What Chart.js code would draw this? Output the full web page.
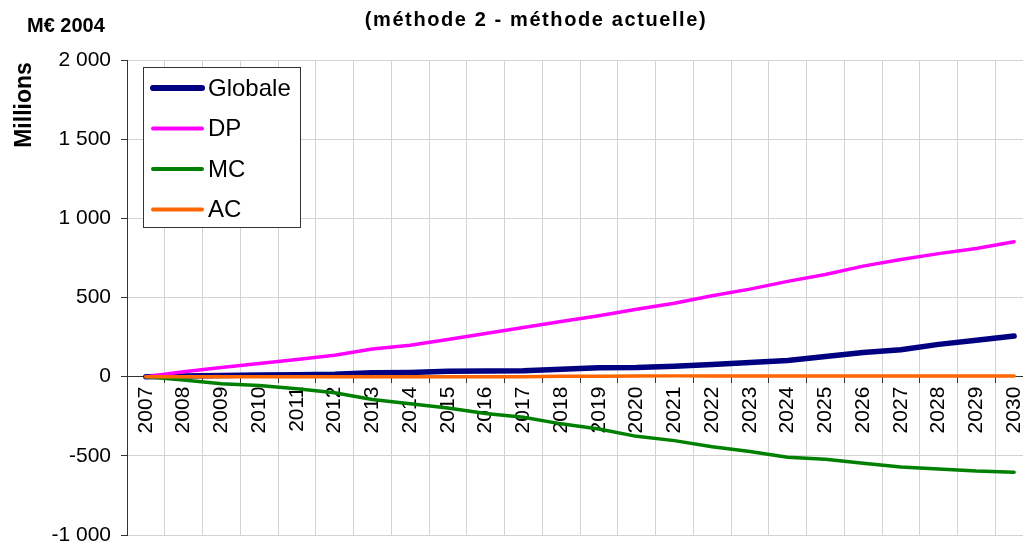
<!DOCTYPE html>
<html>
<head>
<meta charset="utf-8">
<script src="https://cdn.jsdelivr.net/npm/chart.js@4/dist/chart.umd.min.js"></script>
<style>
  html, body { margin: 0; padding: 0; background: #fff; overflow: hidden; }
  #wrap { position: absolute; left: 0; top: 0; width: 1040px; height: 543px; }
</style>
</head>
<body>
<div id="wrap"><canvas id="chart" width="1040" height="543"></canvas></div>
<script>
// valeurs (M€ 2004)
let years = ['2007', '2008', '2009', '2010', '2011', '2012', '2013', '2014', '2015', '2016', '2017', '2018',
             '2019', '2020', '2021', '2022', '2023', '2024', '2025', '2026', '2027', '2028', '2029', '2030'];
let globale = [0, 4, 8, 10, 12, 15, 24, 27, 34, 36, 37, 47, 57, 58, 66, 77, 89, 102, 128, 153, 170, 204, 230, 257];
let dp = [0, 31, 58, 83, 108, 135, 175, 198, 235, 273, 310, 348, 385, 426, 464, 511, 553, 602, 645, 698, 740, 777, 809, 852];
let mc = [0, -21, -44, -56, -77, -102, -144, -171, -198, -233, -256, -298, -330, -377, -404, -443, -472, -509, -521, -547, -570, -583, -596, -603];
let ac = [0, 0, 0, 0, 0, 0, 0, 0, 0, 0, 0, 2, 3, 4, 5, 5, 5, 5, 5, 5, 5, 5, 5, 5];
let yTicks = [-1000, -500, 0, 500, 1000, 1500, 2000];

const FONT = "'Liberation Sans', Arial, sans-serif";
const AXIS = '#333333';
const GRID = '#d3d3d3';

function formatNumber(v) {
    let s = String(Math.abs(v)).replace(/\B(?=(\d{3})+(?!\d))/g, ' ');
    return (v < 0 ? '-' : '') + s;
}

// titres + légende dessinés à la main
const decorations = {
    id: 'decorations',
    afterDraw(chart) {
        let ctx = chart.ctx;
        ctx.save();
        ctx.fillStyle = '#000';
        ctx.textBaseline = 'alphabetic';

        ctx.font = 'bold 20px ' + FONT;
        ctx.textAlign = 'left';
        ctx.fillText('M€ 2004', 27, 32);

        ctx.font = 'bold 20px ' + FONT;
        ctx.textAlign = 'center';
        if ('letterSpacing' in ctx) ctx.letterSpacing = '1.6px';
        ctx.fillText('(méthode 2 - méthode actuelle)', 536, 26);
        if ('letterSpacing' in ctx) ctx.letterSpacing = '0px';

        ctx.save();
        ctx.translate(31, 105);
        ctx.rotate(-Math.PI / 2);
        ctx.font = 'bold 23px ' + FONT;
        ctx.textAlign = 'center';
        ctx.fillText('Millions', 0, 0);
        ctx.restore();

        // légende
        let x0 = 143.5, y0 = 67.5, w = 157, h = 160;
        ctx.fillStyle = '#fff';
        ctx.fillRect(x0, y0, w, h);
        ctx.strokeStyle = '#333';
        ctx.lineWidth = 1;
        ctx.strokeRect(x0, y0, w, h);
        chart.data.datasets.forEach(function(ds, i) {
            let y = 88 + i * 40.5;
            ctx.beginPath();
            ctx.strokeStyle = ds.borderColor;
            ctx.lineWidth = ds.borderWidth + 0.5;
            ctx.lineCap = 'round';
            ctx.moveTo(153, y);
            ctx.lineTo(202, y);
            ctx.stroke();
            ctx.fillStyle = '#000';
            ctx.font = '24px ' + FONT;
            ctx.textAlign = 'left';
            ctx.textBaseline = 'middle';
            ctx.fillText(ds.label, 208, y + 1);
        });
        ctx.restore();
    }
};

function makeLine(label, data, color, width, order) {
    return {
        label: label,
        data: data,
        borderColor: color,
        backgroundColor: color,
        borderWidth: width,
        pointRadius: 0,
        tension: 0,
        borderCapStyle: 'round',
        borderJoinStyle: 'round',
        fill: false,
        order: order
    };
}

let ctx = document.getElementById('chart').getContext('2d');
window.resultChart = new Chart(ctx, {
    type: 'line',
    data: {
        labels: years,
        datasets: [
            makeLine('Globale', globale, '#000080', 5.5, 3),
            makeLine('DP', dp, '#ff00ff', 3.5, 2),
            makeLine('MC', mc, '#008000', 3.5, 1),
            makeLine('AC', ac, '#ff6600', 3.5, 0)
        ]
    },
    options: {
        responsive: false,
        maintainAspectRatio: false,
        animation: false,
        layout: { padding: { left: 0, top: 60, right: 7, bottom: 8 } },
        plugins: {
            legend: { display: false },
            title: { display: false },
            tooltip: { enabled: false }
        },
        scales: {
            x: {
                type: 'category',
                position: { y: 0 },
                offset: true,
                grid: {
                    offset: true,
                    color: function(c) { return c.index === 0 ? 'rgba(0,0,0,0)' : GRID; },
                    tickColor: AXIS,
                    tickLength: 6,
                    lineWidth: 1
                },
                border: { color: AXIS, width: 1 },
                ticks: {
                    minRotation: 90,
                    maxRotation: 90,
                    autoSkip: false,
                    padding: 4,
                    color: '#000',
                    font: { family: FONT, size: 21 }
                },
                afterFit: function(scale) {
                    scale.paddingLeft = 0;
                    scale.paddingRight = 0;
                }
            },
            y: {
                min: -1000,
                max: 2000,
                afterBuildTicks: function(scale) {
                    scale.ticks = yTicks.map(v => ({ value: v }));
                },
                grid: {
                    color: function(c) { return c.tick && c.tick.value === 0 ? 'rgba(0,0,0,0)' : GRID; },
                    tickColor: AXIS,
                    tickLength: 6,
                    lineWidth: 1
                },
                border: { color: AXIS, width: 1 },
                ticks: {
                    padding: 10,
                    color: '#000',
                    font: { family: FONT, size: 21 },
                    callback: function(v) { return formatNumber(v); }
                },
                afterFit: function(scale) {
                    scale.width = 127;
                    scale.paddingTop = 0;
                    scale.paddingBottom = 0;
                }
            }
        }
    },
    plugins: [decorations]
});
</script>
</body>
</html>
